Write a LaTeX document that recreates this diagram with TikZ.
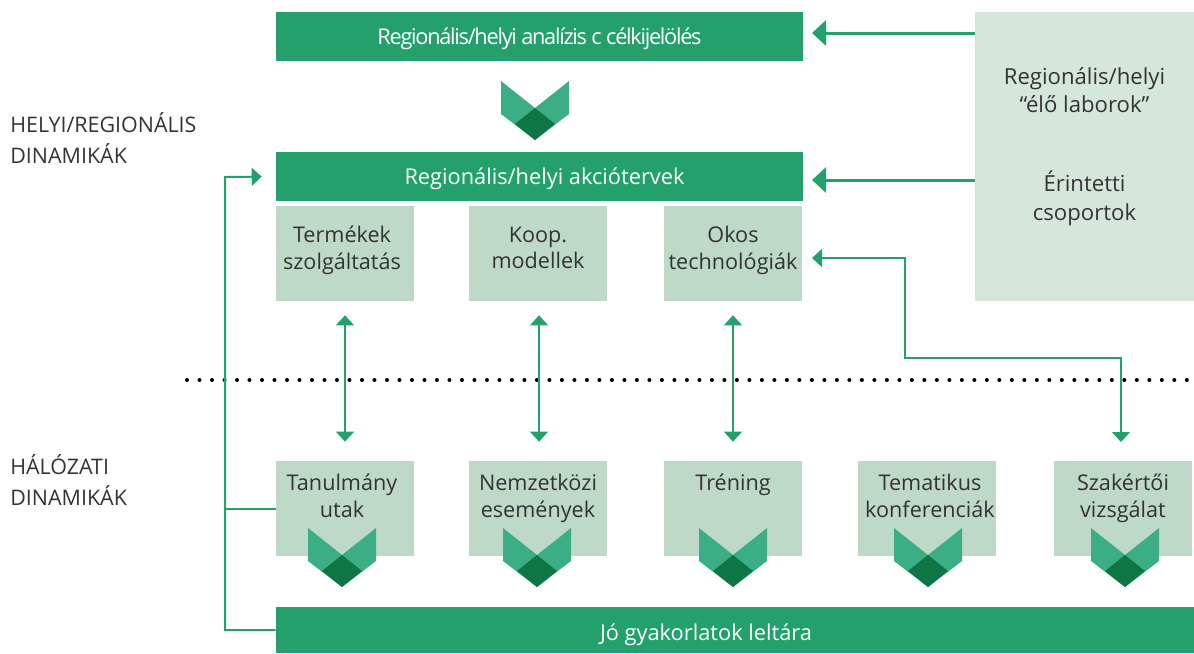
\documentclass[tikz,border=0pt]{standalone}
\usepackage{fontspec}
\setmainfont{Open Sans}
\newfontfamily\tightfont[LetterSpace=-5.9]{Open Sans}
\usetikzlibrary{arrows.meta}

\definecolor{bargreen}{HTML}{23A06C}
\definecolor{boxgreen}{HTML}{BFD9C8}
\definecolor{palegreen}{HTML}{D5E7DB}
\definecolor{wingreen}{HTML}{3BAE85}
\definecolor{darkgreen}{HTML}{0E7545}
\definecolor{inkgray}{HTML}{333333}

\newcommand{\nudge}[1]{\hspace*{#1}}

\tikzset{%
  bar/.style={
    rectangle,
    fill=bargreen,
    text=white,
    minimum width=10.54cm,
    minimum height=0.98cm,
    inner sep=0pt,
    text height=0.42cm,
    text depth=0.1cm,
    font=\fontsize{12.4}{15}\selectfont
  },
  topic/.style={
    rectangle,
    fill=boxgreen,
    text=inkgray,
    minimum width=2.76cm,
    minimum height=1.9cm,
    inner sep=0pt,
    align=center,
    font=\fontsize{12.3}{15}\selectfont
  },
  side label/.style={
    anchor=west,
    align=left,
    inner sep=0pt,
    text=inkgray,
    font=\fontsize{12.2}{17.6}\selectfont
  },
  thick link/.style={
    draw=bargreen,
    line width=0.06cm,
    -{Triangle[length=0.28cm,width=0.5cm]},
    shorten >=0.18cm
  },
  thin link/.style={
    draw=bargreen,
    line width=0.024cm,
    {Triangle[length=0.2cm,width=0.36cm]}-{Triangle[length=0.2cm,width=0.36cm]}
  },
  chevron/.pic={
    \fill[wingreen] (-34,-27) -- (0,0) -- (34,-27) -- (34,6) -- (0,32) -- (-34,6) -- cycle;
    \fill[darkgreen] (0,0) -- (20,16) -- (0,32) -- (-20,16) -- cycle;
  },
}

\begin{document}
\begin{tikzpicture}[x=0.02cm,y=-0.02cm]
\useasboundingbox (0,0) rectangle (1194,653);
% upper rows
\node[bar,font=\tightfont\fontsize{12.4}{15}\selectfont] (analysis) at (539.5,36.5) {Regionális/helyi analízis c célkijelölés};
\node[bar] (plans) at (539.5,176.5) {\nudge{0.2cm}Regionális/helyi akciótervek};
\node[topic,fill=palegreen,minimum width=4.38cm,minimum height=5.78cm,font=\fontsize{12.6}{16}\selectfont] (labs) at (1084.5,156.5)
  {Regionális/helyi\\“élő laborok”\\[1.02cm]Érintetti\\csoportok\\[-0.06cm]};
\node[topic] (products) at (345,253.5) {\nudge{-0.12cm}Termékek\\\nudge{-0.12cm}szolgáltatás\\[-0.3cm]};
\node[topic] (models) at (538,253.5) {Koop.\\modellek\\[-0.3cm]};
\node[topic] (tech) at (733,253.5) {Okos\\technológiák\\[-0.3cm]};
% lower row
\node[topic] (trips) at (345,508.5) {\nudge{-0.12cm}Tanulmány\\\nudge{-0.12cm}utak\\[-0.02cm]};
\node[topic] (events) at (538,508.5) {Nemzetközi\\események\\[-0.02cm]};
\node[topic] (training) at (733,508.5) {Tréning\\~\\[-0.02cm]};
\node[topic] (confs) at (927,508.5) {\nudge{0.12cm}Tematikus\\\nudge{0.12cm}konferenciák\\[-0.02cm]};
\node[topic] (review) at (1123,508.5) {Szakértői\\vizsgálat\\[-0.02cm]};
\node[bar,minimum width=18.36cm,minimum height=0.92cm,text height=0.5cm] (inventory) at (735,630) {\nudge{-1.16cm}Jó gyakorlatok leltára};
% titles on the left
\node[side label] (local) at (10,138) {HELYI/REGIONÁLIS\\DINAMIKÁK};
\node[side label] (network) at (10,480) {HÁLÓZATI\\DINAMIKÁK};
% chevrons
\pic at (535,108) {chevron};
\foreach \x in {342,537,733,928,1125} {
  \pic at (\x,555) {chevron};
}
% dots
\coordinate (dots start) at (187,380);
\coordinate (dots end) at (1194,380);
\draw[line width=0.08cm,line cap=round,dash pattern=on 0pt off 0.25cm] (dots start) -- (dots end);
% links
\coordinate (analysis port) at (803,33);
\coordinate (plans port) at (803,180);
\draw[thick link] (labs.west |- analysis port) -- (analysis port);
\draw[thick link] (labs.west |- plans port) -- (plans port);
\draw[thin link,shorten <=0.28cm,shorten >=0.38cm] (products) -- (trips);
\draw[thin link,shorten <=0.28cm,shorten >=0.38cm] ([xshift=0.02cm]models.south) -- ([xshift=0.02cm]events.north);
\draw[thin link,shorten <=0.28cm,shorten >=0.38cm] (tech) -- (training);
\coordinate (turn) at (905,358);
\coordinate (tech port) at (802,258);
\coordinate (review port) at (1121,461);
\draw[thin link,shorten <=0.2cm,shorten >=0.38cm] (tech port) -| (turn) -| (review port);
\coordinate (rail) at (225,177);
\draw[draw=bargreen,line width=0.04cm] (trips.west) -- (trips.west -| rail);
\draw[draw=bargreen,line width=0.04cm,-{Triangle[length=0.2cm,width=0.36cm]},shorten >=0.28cm] (inventory.west) -- (inventory.west -| rail) -- (rail) -- (plans.west);
\end{tikzpicture}
\end{document}
